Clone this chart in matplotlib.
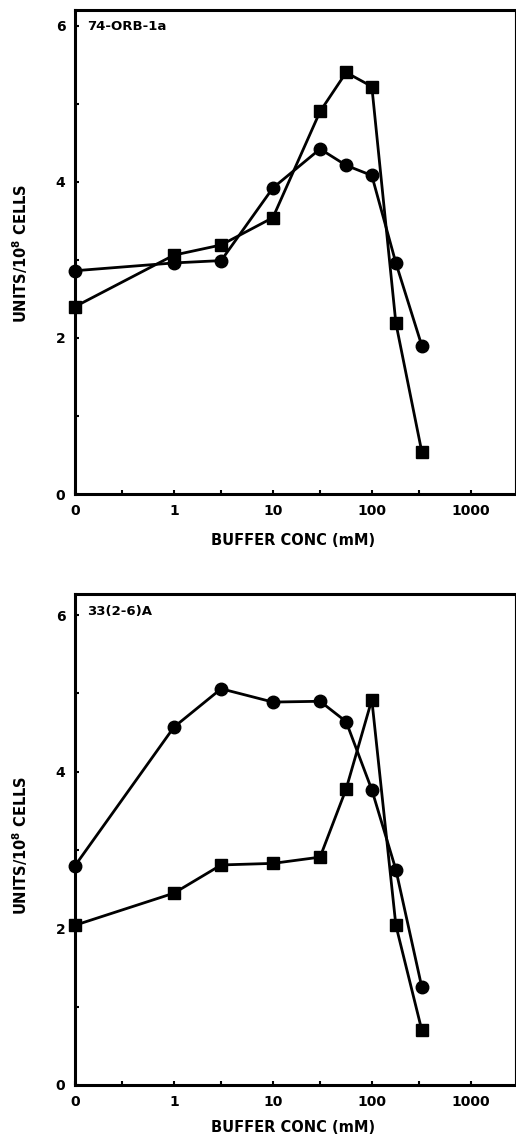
import matplotlib
matplotlib.use("Agg")
import matplotlib.pyplot as plt
from matplotlib.ticker import FixedLocator, NullFormatter

plt.rcParams['font.family'] = ['DejaVu Sans']

# Buffer concentrations in mM; the "0" point sits at 0.1 on the log axis
conc = [0.1, 1, 3, 10, 30, 55, 100, 175, 320]

# Panel 1: 74-ORB-1a
orb_circle = [2.86, 2.96, 2.99, 3.92, 4.42, 4.21, 4.08, 2.96, 1.90]
orb_square = [2.40, 3.06, 3.19, 3.54, 4.90, 5.40, 5.22, 2.19, 0.54]

# Panel 2: 33(2-6)A
a33_circle = [2.80, 4.57, 5.06, 4.89, 4.90, 4.64, 3.77, 2.75, 1.25]
a33_square = [2.04, 2.45, 2.81, 2.83, 2.91, 3.78, 4.92, 2.04, 0.70]

x_ticks = [0.1, 1, 10, 100, 1000]
x_ticklabels = ["0", "1", "10", "100", "1000"]
x_minor = [0.3, 3, 30, 300]
y_ticks = [0, 2, 4, 6]
y_minor = [1, 3, 5]

panel_titles = ["74-ORB-1a", "33(2-6)A"]
ylabel = "UNITS/10$^{\\mathbf{8}}$ CELLS"
xlabel = "BUFFER CONC (mM)"

W, H = 516, 1139
fig = plt.figure(figsize=(W / 100, H / 100), dpi=100)


def frac(px_left, px_top, px_right, px_bottom):
    return [px_left / W, 1 - px_bottom / H, (px_right - px_left) / W, (px_bottom - px_top) / H]


panels = [
    dict(rect=frac(75, 10, 515, 494), ymax=6.2, circ=orb_circle, sq=orb_square,
         title=panel_titles[0], ylab_y=253, xlab_y=540),
    dict(rect=frac(75, 594, 515, 1085), ymax=6.27, circ=a33_circle, sq=a33_square,
         title=panel_titles[1], ylab_y=845, xlab_y=1127),
]

for p in panels:
    ax = fig.add_axes(p["rect"])
    ax.set_xscale("log")
    ax.set_xlim(0.1, 2800)
    ax.set_ylim(0, p["ymax"])

    ax.plot(conc, p["circ"], color="black", lw=2.0, marker="o", ms=9,
            mfc="black", mec="black", zorder=3, clip_on=False)
    ax.plot(conc, p["sq"], color="black", lw=2.0, marker="s", ms=8.5,
            mfc="black", mec="black", zorder=3, clip_on=False)

    ax.xaxis.set_major_locator(FixedLocator(x_ticks))
    ax.set_xticklabels(x_ticklabels)
    ax.xaxis.set_minor_locator(FixedLocator(x_minor))
    ax.xaxis.set_minor_formatter(NullFormatter())
    ax.yaxis.set_major_locator(FixedLocator(y_ticks))
    ax.yaxis.set_minor_locator(FixedLocator(y_minor))
    ax.yaxis.set_minor_formatter(NullFormatter())

    ax.tick_params(axis="both", which="both", direction="in", length=3,
                   width=1.5, color="black")
    ax.tick_params(axis="x", which="major", pad=7, labelsize=10)
    ax.tick_params(axis="y", which="major", pad=7, labelsize=10)
    for lab in ax.get_xticklabels() + ax.get_yticklabels():
        lab.set_fontweight("bold")

    for side in ("left", "bottom", "top"):
        ax.spines[side].set_linewidth(2.2)
    ax.spines["right"].set_linewidth(0.8)

    ax.text(0.028, 0.965, p["title"], transform=ax.transAxes, ha="left",
            va="center", fontsize=9.5, fontweight="bold")

    fig.text(20 / W, 1 - p["ylab_y"] / H, ylabel, rotation=90, ha="center",
             va="center", fontsize=10.5, fontweight="bold")
    fig.text(293 / W, 1 - p["xlab_y"] / H, xlabel, ha="center", va="center",
             fontsize=10.5, fontweight="bold")

fig.savefig("out.png", dpi=100)
